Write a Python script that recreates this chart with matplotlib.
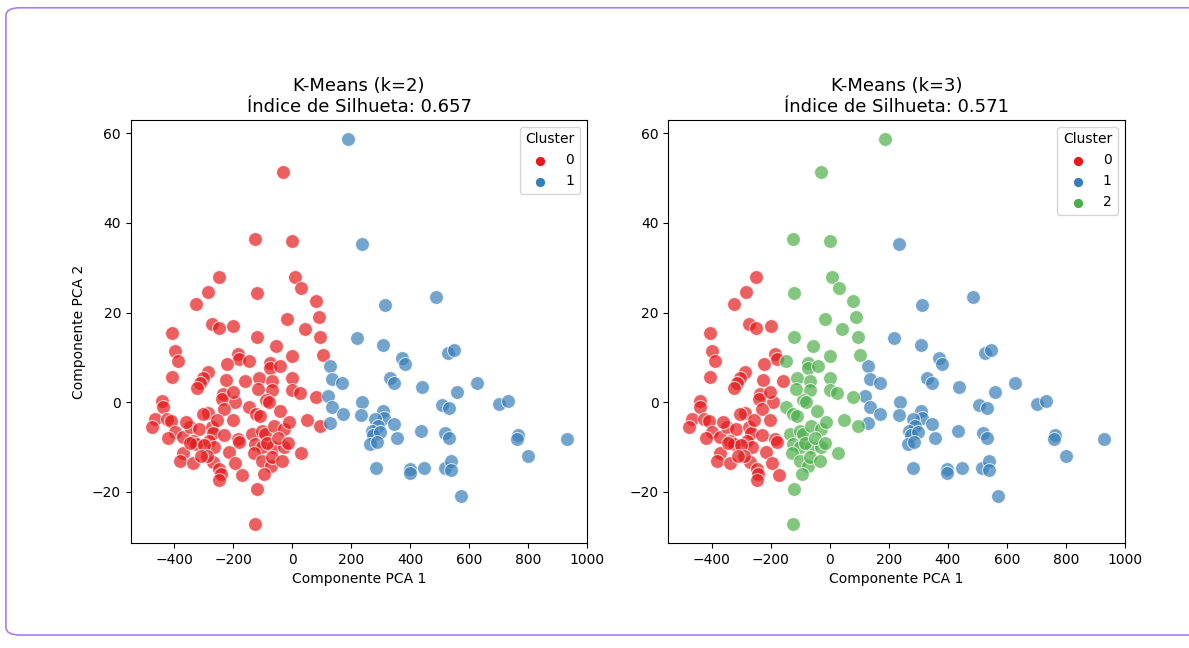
import matplotlib.pyplot as plt
import numpy as np
from matplotlib.patches import FancyBboxPatch

# points (PCA 1, PCA 2)
# red in both runs
red_x = [-326, -407, -272, -249, -200, -399, -388, -185, -180, -222, -407, -286,
         -303, -314, -324, -159, -236, -238, -193, -202, -440, -438, -286, -230,
         -466, -477, -426, -410, -202, -399, -371, -348, -317, -272, -267, -230,
         -337, -326, -281, -264, -185, -180, -371, -382, -337, -270, -247, -242,
         -247, -171, -303, -250, -284,
         -345, -300, -215, -255, -290, -360, -225, -195, -420, -310]
red_y = [22.0, 15.5, 17.4, 16.6, 17.0, 11.4, 9.2, 10.7, 9.6, 8.5, 5.7, 6.8,
         5.5, 4.4, 3.2, 4.8, 1.8, 0.7, 0.0, 2.4, 0.3, -1.0, -2.3, -1.5,
         -3.7, -5.4, -3.7, -4.1, -4.0, -6.7, -7.7, -5.6, -6.0, -5.4, -6.9, -7.4,
         -8.6, -9.3, -8.6, -10.0, -8.2, -8.9, -11.2, -13.0, -13.6, -13.4, -14.8, -16.0,
         -17.4, -16.3, -2.6, 27.9, 24.6,
         -9.0, -9.5, -11.0, -4.0, -12.0, -4.5, 5.0, -13.5, -8.0, -12.0]

# red with k=2, green with k=3
mid_x = [79, -17, 90, 43, 95, -121, -56, 0, 104, -148, -75, -75,
         -112, -67, -67, 0, 0, 25, 79, -148, -90, -79, -124, -43,
         -135, -101, -92, -62, -28, -11, -126, -101, -65, -28, -129, -101,
         -73, -67, -34, 28, -121, -126, 95, -30, -126, 0, 9, 31, -121,
         -110, -85, -50, -115, -40, -95, -15, 50]
mid_y = [22.6, 18.5, 19.0, 16.3, 14.6, 14.6, 12.6, 10.3, 10.6, 9.1, 8.8, 7.7,
         5.4, 4.8, 2.7, 5.5, 2.7, 2.0, 1.1, -1.0, 0.5, 0.0, -2.6, -1.9,
         -7.1, -6.3, -7.1, -5.2, -6.0, -4.5, -9.3, -10.0, -10.0, -10.0, -11.2, -13.0,
         -14.1, -12.3, -13.0, -11.2, -19.3, -27.1, -5.2, 51.4, 36.4, 36.0, 27.9, 25.5, 24.3,
         -3.0, -9.0, -8.0, 3.0, 8.0, -16.0, -9.0, -4.0]

# blue with k=2, green with k=3
top_x = [188]
top_y = [58.7]

# blue in both runs
blue_x = [236, 486, 314, 219, 309, 371, 382, 528, 548, 331, 346, 440,
          627, 559, 702, 732, 238, 234, 506, 533, 309, 312, 281, 290,
          346, 270, 275, 298, 264, 286, 356, 435, 519, 533, 764, 762,
          930, 800, 284, 399, 399, 447, 517, 539, 539, 571, 129, 135,
          170, 121, 135, 172, 129]
blue_y = [35.2, 23.5, 21.6, 14.3, 12.7, 9.8, 8.6, 10.9, 11.7, 5.5, 4.2, 3.4,
          4.2, 2.4, -0.3, 0.3, 0.1, -2.8, -0.6, -1.2, -1.9, -3.4, -3.7, -5.2,
          -4.8, -6.3, -7.4, -6.7, -9.3, -8.9, -8.0, -6.3, -6.9, -8.0, -7.2, -8.2,
          -8.2, -11.9, -14.6, -14.8, -15.8, -14.6, -14.6, -13.0, -15.2, -20.8, 8.1, 5.2,
          4.4, 1.4, -1.0, -2.6, -4.7]

scores = [0.657, 0.571]
colors = ['#e41a1c', '#377eb8', '#4daf4a']

x = np.array(red_x + mid_x + top_x + blue_x)
y = np.array(red_y + mid_y + top_y + blue_y)
labels_k2 = np.array([0] * len(red_x) + [0] * len(mid_x) + [1] * len(top_x) + [1] * len(blue_x))
labels_k3 = np.array([0] * len(red_x) + [2] * len(mid_x) + [2] * len(top_x) + [1] * len(blue_x))

fig = plt.figure(figsize=(11.89, 6.48), dpi=100)

# card border of the screenshot
fig.patches.append(FancyBboxPatch((0.005, 0.02), 1.05, 0.968, boxstyle='round,pad=0,rounding_size=0.012',
                                  transform=fig.transFigure, facecolor='none',
                                  edgecolor='#a97ef0', linewidth=1.2))

axes = [fig.add_axes([0.110, 0.162, 0.384, 0.653]),
        fig.add_axes([0.562, 0.162, 0.384, 0.653])]

for ax, k, labels, score in zip(axes, [2, 3], [labels_k2, labels_k3], scores):
    for c in range(k):
        m = labels == c
        ax.scatter(x[m], y[m], s=100, color=colors[c], alpha=0.7,
                   edgecolor='white', linewidth=0.8, label=str(c))
    ax.set_title(f'K-Means (k={k})\nÍndice de Silhueta: {score:.3f}', fontsize=13)
    ax.set_xlabel('Componente PCA 1', fontsize=10)
    ax.set_xticks([-400, -200, 0, 200, 400, 600, 800, 1000])
    ax.set_yticks([-20, 0, 20, 40, 60])
    ax.tick_params(labelsize=10)
    leg = ax.legend(title='Cluster', loc='upper right', fontsize=10, title_fontsize=10,
                    markerscale=0.75)
    for h in leg.legend_handles:
        h.set_alpha(1)

axes[0].set_ylabel('Componente PCA 2', fontsize=10)

fig.savefig('out.png', dpi=100)
